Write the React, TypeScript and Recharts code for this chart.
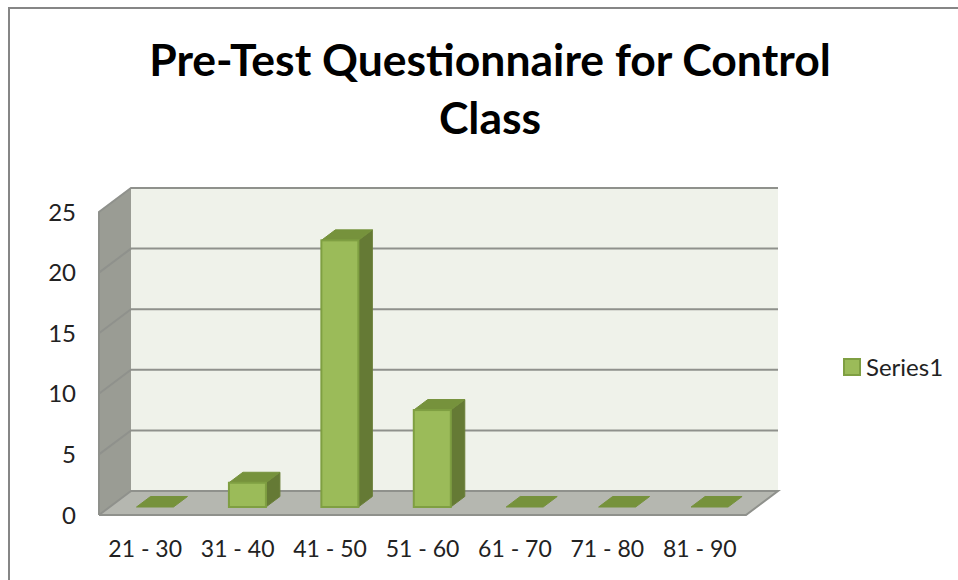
import React from "react";
import { BarChart, Bar, XAxis, YAxis, ReferenceArea, Legend } from "recharts";

const categories = ["21 - 30", "31 - 40", "41 - 50", "51 - 60", "61 - 70", "71 - 80", "81 - 90"];
const seriesValues = [0, 2, 22, 8, 0, 0, 0];
const yTicks = [0, 5, 10, 15, 20, 25];
const gridValues = [5, 10, 15, 20];
const titleLines = ["Pre-Test Questionnaire for Control", "Class"];
const seriesName = "Series1";

const data = categories.map((name, i) => ({ name, value: seriesValues[i] }));

const FONT = "Lato, Carlito, sans-serif";
const DX = 32;
const DY = -24;
const LINE = "#8f918c";

const Walls = (props: any) => {
  const { x, y, width, height } = props;
  const r = x + width;
  const b = y + height;
  return (
    <g>
      <polygon points={`${x + DX},${y + DY} ${r + DX},${y + DY} ${r + DX},${b + DY} ${x + DX},${b + DY}`} fill="#eff2ea" />
      <polygon points={`${x},${y} ${x + DX},${y + DY} ${x + DX},${b + DY} ${x},${b}`} fill="#9a9c94" />
      <polygon points={`${x},${b} ${x + DX},${b + DY} ${r + DX},${b + DY} ${r},${b}`} fill="#b5b7b0" />
      <polyline points={`${x},${b} ${x},${y} ${x + DX},${y + DY} ${r + DX},${y + DY}`} fill="none" stroke={LINE} strokeWidth={2} />
      <polyline points={`${x},${b} ${r},${b} ${r + DX},${b + DY} ${x + DX},${b + DY} ${x},${b}`} fill="none" stroke={LINE} strokeWidth={2} />
    </g>
  );
};

const GridLine = (props: any) => {
  const { x, y, width } = props;
  return (
    <polyline
      points={`${x},${y} ${x + DX},${y + DY} ${x + width + DX},${y + DY}`}
      fill="none"
      stroke={LINE}
      strokeWidth={2}
    />
  );
};

const Bar3D = (props: any) => {
  const { x, y, width, height } = props;
  const l = x + 9.5;
  const r = l + width;
  const t = y - 8;
  const b = t + height;
  const sx = 14;
  const sy = -10.5;
  return (
    <g>
      {height > 0 && (
        <polygon points={`${r},${t} ${r + sx},${t + sy} ${r + sx},${b + sy} ${r},${b}`} fill="#657a35" stroke="#6a7f38" strokeWidth={1} />
      )}
      <polygon points={`${l},${t} ${l + sx},${t + sy} ${r + sx},${t + sy} ${r},${t}`} fill="#76923c" stroke="#76923c" strokeWidth={1} />
      {height > 0 && <rect x={l} y={t} width={width} height={height} fill="#9bbb59" stroke="#7f9f42" strokeWidth={2} />}
    </g>
  );
};

const LegendBox = () => (
  <div style={{ display: "flex", alignItems: "center", fontFamily: FONT, fontSize: 24, color: "#222" }}>
    <span style={{ width: 14, height: 14, background: "#9bbb59", border: "2px solid #7f9f42", marginRight: 5, display: "inline-block" }} />
    {seriesName}
  </div>
);

export default function App() {
  return (
    <div style={{ position: "absolute", left: 0, top: 0, width: 958, height: 580, overflow: "hidden", background: "#fff" }}>
      <div style={{ position: "absolute", left: 8, top: 7, width: 960, height: 590, borderLeft: "2px solid #868686", borderTop: "2px solid #868686" }} />
      <div style={{ position: "absolute", left: 0, top: 30, width: 980, textAlign: "center", fontFamily: FONT, fontWeight: 700, fontSize: 44.5, lineHeight: "58px", color: "#000" }}>
        {titleLines.map((line) => (
          <div key={line}>{line}</div>
        ))}
      </div>
      <BarChart
        width={958}
        height={580}
        data={data}
        margin={{ top: 212, right: 97, bottom: 35, left: 0 }}
        style={{ position: "absolute", left: 0, top: 0 }}
      >
        <ReferenceArea yAxisId={0} y1={0} y2={25} ifOverflow="visible" shape={<Walls />} />
        {gridValues.map((v) => (
          <ReferenceArea key={v} yAxisId={0} y1={v} y2={v} ifOverflow="visible" shape={<GridLine />} />
        ))}
        <XAxis dataKey="name" axisLine={false} tickLine={false} interval={0} tickMargin={20} tick={{ fontFamily: FONT, fontSize: 23, fill: "#222" }} />
        <YAxis yAxisId={0} width={99} domain={[0, 25]} ticks={yTicks} axisLine={false} tickLine={false} tickMargin={17} tick={{ fontFamily: FONT, fontSize: 24, fill: "#222" }} />
        <Legend layout="vertical" align="right" verticalAlign="top" wrapperStyle={{ left: 843, top: 352, width: 115 }} content={<LegendBox />} />
        <Bar dataKey="value" name={seriesName} barSize={37} isAnimationActive={false} shape={<Bar3D />} />
      </BarChart>
    </div>
  );
}
